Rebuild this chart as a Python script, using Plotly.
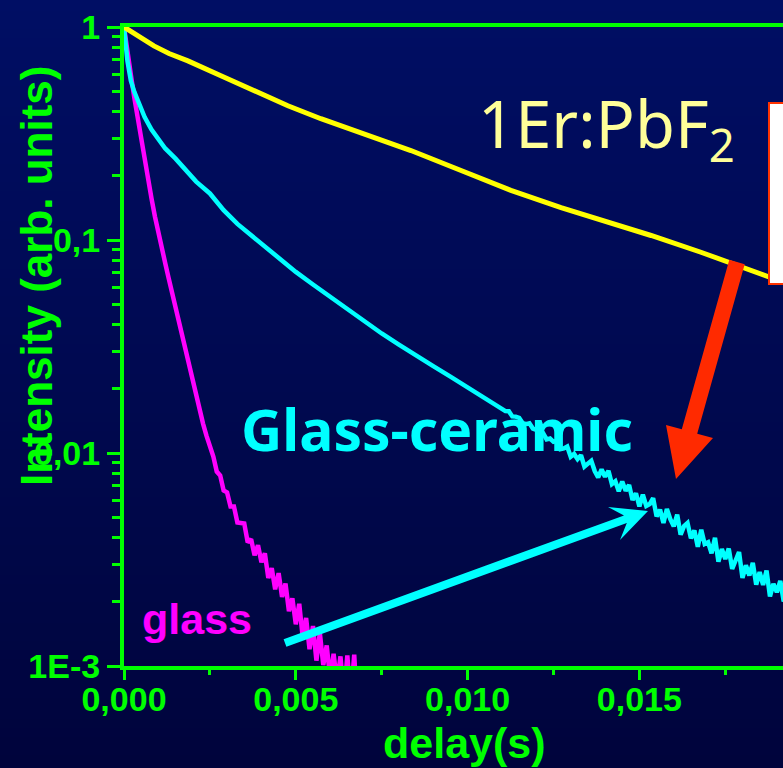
import base64
import struct
import zlib

import plotly.graph_objects as go

# ---------------------------------------------------------------- data
# Luminescence decay of Er3+ (intensity normalised to 1 at t = 0)

# 1Er:PbF2 crystal
crystal_t = [0, 0.00044, 0.00087, 0.00131, 0.00186, 0.00282, 0.00378, 0.00477, 0.00573,
             0.00669, 0.00835, 0.00981, 0.01126, 0.01272, 0.01417, 0.01534, 0.01679,
             0.01825, 0.01927]
crystal_i = [1.0, 0.898, 0.815, 0.751, 0.693, 0.590, 0.502, 0.427, 0.371,
             0.326, 0.263, 0.212, 0.171, 0.142, 0.121, 0.105, 0.0876,
             0.0722, 0.0627]

# glass-ceramic
ceramic_t = [0, 0.00005, 0.0001, 0.00015, 0.0002, 0.0003, 0.0004, 0.0005, 0.0006, 0.0008,
             0.0010, 0.0012, 0.0015, 0.0018, 0.0021, 0.0025, 0.0029, 0.0033, 0.0037,
             0.0040, 0.0045, 0.0050, 0.0055, 0.0060, 0.0065, 0.0070, 0.0075, 0.0080,
             0.0085, 0.0090, 0.0095, 0.0100, 0.0105,
             0.0110, 0.0111, 0.0112, 0.0113, 0.0114, 0.0115, 0.0116, 0.0117, 0.0118, 0.0119,
             0.0120, 0.0121, 0.0122, 0.0123, 0.0124, 0.0125, 0.0126, 0.0127, 0.0128, 0.0129,
             0.0130, 0.0131, 0.0132, 0.0133, 0.0134, 0.0135, 0.0136, 0.0137, 0.0138, 0.0139,
             0.0140, 0.0141, 0.0142, 0.0143, 0.0144, 0.0145, 0.0146, 0.0147, 0.0148, 0.0149,
             0.0150, 0.0151, 0.0152, 0.0153, 0.0154, 0.0155, 0.0156, 0.0157, 0.0158, 0.0159,
             0.0160, 0.0161, 0.0162, 0.0163, 0.0164, 0.0165, 0.0166, 0.0167, 0.0168, 0.0169,
             0.0170, 0.0171, 0.0172, 0.0173, 0.0174, 0.0175, 0.0176, 0.0177, 0.0178, 0.0179,
             0.0180, 0.0181, 0.0182, 0.0183, 0.0184, 0.0185, 0.0186, 0.0187, 0.0188, 0.0189,
             0.0190, 0.0191, 0.0192, 0.0193]
ceramic_i = [1.0, 0.815, 0.693, 0.622, 0.559, 0.496, 0.448, 0.404, 0.3776, 0.330,
             0.2985, 0.269, 0.241, 0.212, 0.188, 0.1654, 0.138, 0.119, 0.1051,
             0.0957, 0.0818, 0.0708, 0.0618, 0.0540, 0.0472, 0.0415, 0.0364, 0.0323,
             0.0286, 0.0256, 0.02285, 0.0204, 0.01827,
             0.01629, 0.01574, 0.01571, 0.01485, 0.01482, 0.01463, 0.01383, 0.01365, 0.01378, 0.01302,
             0.01285, 0.01229, 0.01239, 0.01159, 0.01169, 0.01129, 0.01140, 0.01043, 0.01051, 0.01073,
             0.00960, 0.00990, 0.00936, 0.00976, 0.00864, 0.00891, 0.00919, 0.00823, 0.00769, 0.00837,
             0.00774, 0.00824, 0.00715, 0.00737, 0.00661, 0.00734, 0.00665, 0.00708, 0.00601, 0.00647,
             0.00561, 0.00637, 0.00564, 0.00576, 0.00614, 0.00504, 0.00542, 0.00470, 0.00546, 0.00489,
             0.00453, 0.00514, 0.00414, 0.00454, 0.00469, 0.00398, 0.00433, 0.00363, 0.00436, 0.00374,
             0.00381, 0.00338, 0.00400, 0.00309, 0.00354, 0.00318, 0.00356, 0.00286, 0.00309, 0.00343,
             0.00259, 0.00297, 0.00266, 0.00305, 0.00241, 0.00276, 0.00240, 0.00281, 0.00212, 0.00243,
             0.00222, 0.00251, 0.00201, 0.00224]

# glass
glass_t = [0, 0.00005, 0.0001, 0.0002, 0.0003, 0.0004, 0.0005, 0.0006, 0.0007, 0.0008, 0.0009,
           0.0010, 0.0011, 0.0012, 0.0013, 0.0014, 0.0015, 0.0016, 0.0017, 0.0018, 0.0019,
           0.0020, 0.0021, 0.0022, 0.0023, 0.0024, 0.0025, 0.0026, 0.0027, 0.0028, 0.0029,
           0.0030, 0.0031, 0.0032, 0.0033, 0.0034, 0.0035, 0.0036, 0.0037, 0.0038, 0.0039,
           0.0040, 0.0041, 0.0042, 0.0043, 0.0044, 0.0045, 0.0046, 0.0047, 0.0048, 0.0049,
           0.0050, 0.0051, 0.0052, 0.0053, 0.0054, 0.0055, 0.0056, 0.0057, 0.0058, 0.0059,
           0.0060, 0.0061, 0.0062, 0.0063, 0.0064, 0.0065, 0.0066, 0.0067, 0.0068]
glass_i = [1.0, 0.860, 0.755, 0.596, 0.4655, 0.371, 0.2928, 0.236, 0.1903, 0.1567, 0.129,
           0.1075, 0.0905, 0.0778, 0.0662, 0.0563, 0.0484, 0.0412, 0.0351, 0.0301, 0.0254,
           0.0216, 0.0180, 0.0158, 0.01374, 0.01206, 0.01083, 0.00962, 0.00818, 0.00784, 0.00667,
           0.00653, 0.00561, 0.00561, 0.00472, 0.00472, 0.00467, 0.00381, 0.00394, 0.00331, 0.00369,
           0.00307, 0.00338, 0.00259, 0.00288, 0.00229, 0.00273, 0.00211, 0.00244, 0.00181, 0.00208,
           0.00157, 0.00196, 0.00137, 0.00168, 0.00120, 0.00154, 0.00106, 0.00143, 0.00101, 0.00125,
           0.00087, 0.00114, 0.00084, 0.00111, 0.00072, 0.00112, 0.00069, 0.00113, 0.00060]

# axis ticks
x_tick_vals = [0.0, 0.005, 0.010, 0.015]
x_tick_text = ["0,000", "0,005", "0,010", "0,015"]
x_minor_vals = [0.0025, 0.0075, 0.0125, 0.0175]
y_tick_vals = [1, 0.1, 0.01, 0.001]
y_tick_text = ["1", "0,1", "0,01", "1E-3"]
y_minor_vals = [m * d for d in (0.001, 0.01, 0.1) for m in range(2, 10)]

# ---------------------------------------------------------------- style
W, H = 783, 768
ML, MR, MT, MB = 124, 0, 27, 102
PW, PH = W - ML - MR, H - MT - MB
GREEN = "#00ff00"
YELLOW = "#ffff00"
CYAN = "#00ffff"
MAGENTA = "#ff00ff"
RED = "#ff2a00"


def fx(px):
    """figure pixel column -> paper x"""
    return (px - ML) / PW


def fy(py):
    """figure pixel row -> paper y"""
    return (H - MB - py) / PH


def gradient_png(top, bottom, height=256):
    """1-pixel-wide vertical gradient as a PNG data URI"""
    rows = b""
    for r in range(height):
        f = r / (height - 1)
        rgb = bytes(round(a + (b - a) * f) for a, b in zip(top, bottom))
        rows += b"\x00" + rgb

    def chunk(tag, data):
        c = struct.pack(">I", len(data)) + tag + data
        return c + struct.pack(">I", zlib.crc32(tag + data) & 0xFFFFFFFF)

    png = b"\x89PNG\r\n\x1a\n"
    png += chunk(b"IHDR", struct.pack(">IIBBBBB", 1, height, 8, 2, 0, 0, 0))
    png += chunk(b"IDAT", zlib.compress(rows))
    png += chunk(b"IEND", b"")
    return "data:image/png;base64," + base64.b64encode(png).decode()


def path(points):
    return "M " + " L ".join(f"{fx(x):.5f},{fy(y):.5f}" for x, y in points) + " Z"


# ---------------------------------------------------------------- figure
fig = go.Figure()
fig.add_trace(go.Scatter(x=glass_t, y=glass_i, mode="lines",
                         line=dict(color=MAGENTA, width=4.5)))
fig.add_trace(go.Scatter(x=ceramic_t, y=ceramic_i, mode="lines",
                         line=dict(color=CYAN, width=4.5)))
fig.add_trace(go.Scatter(x=crystal_t, y=crystal_i, mode="lines",
                         line=dict(color=YELLOW, width=5)))

tickfont = dict(family="Liberation Sans", size=34, color=GREEN, weight="bold")

fig.update_layout(
    width=W, height=H,
    margin=dict(l=ML, r=MR, t=MT, b=MB, pad=0),
    paper_bgcolor="#000a55",
    plot_bgcolor="rgba(0,0,0,0)",
    showlegend=False,
    xaxis=dict(
        range=[0, PW / 34360], showline=True, linecolor=GREEN, linewidth=4,
        mirror=True, showgrid=False, zeroline=False, automargin=False,
        ticks="outside", ticklen=10, tickwidth=3, tickcolor=GREEN,
        tickvals=x_tick_vals, ticktext=x_tick_text, tickfont=tickfont,
        ticklabelstandoff=-10,
        minor=dict(tickvals=x_minor_vals, ticks="outside", ticklen=5,
                   tickwidth=3, tickcolor=GREEN, showgrid=False),
    ),
    yaxis=dict(
        type="log", range=[-3, 0], showline=True, linecolor=GREEN, linewidth=4,
        mirror=False, showgrid=False, zeroline=False, automargin=False,
        ticks="outside", ticklen=13, tickwidth=3, tickcolor=GREEN,
        tickvals=y_tick_vals, ticktext=y_tick_text, tickfont=tickfont,
        minor=dict(tickvals=y_minor_vals, ticks="outside", ticklen=8,
                   tickwidth=3, tickcolor=GREEN, showgrid=False),
    ),
    images=[dict(
        source=gradient_png((0, 14, 100), (0, 4, 60)),
        xref="paper", yref="paper", x=fx(0), y=fy(0),
        sizex=W / PW, sizey=H / PH, sizing="stretch",
        xanchor="left", yanchor="top", layer="below",
    )],
)

# annotation box (partly outside the frame) and arrows
fig.add_shape(type="rect", xref="paper", yref="paper",
              x0=fx(769), x1=fx(800), y0=fy(284), y1=fy(103),
              fillcolor="white", line=dict(color="#ff3300", width=2), layer="above")
fig.add_shape(type="path", xref="paper", yref="paper", layer="above",
              path=path([(729.3, 259.8), (744.7, 264.2), (697.2, 433.7), (713, 438),
                         (676, 479), (666, 425), (681.8, 429.3)]),
              fillcolor=RED, line=dict(width=0))
fig.add_shape(type="path", xref="paper", yref="paper", layer="above",
              path=path([(283.6, 639.2), (624.0, 515.4), (608, 507), (648, 511),
                         (620, 540), (626.8, 523.0), (286.4, 646.8)]),
              fillcolor=CYAN, line=dict(width=0))

# labels
fig.add_annotation(text="1Er:PbF<sub>2</sub>", xref="paper", yref="paper",
                   x=fx(476), y=fy(127), xanchor="left", yanchor="middle",
                   showarrow=False,
                   font=dict(family="Noto Sans", size=65, color="#ffff99"))
fig.add_annotation(text="Glass-ceramic", xref="paper", yref="paper",
                   x=fx(437), y=fy(429), xanchor="center", yanchor="middle",
                   showarrow=False,
                   font=dict(family="Noto Sans", size=57, color=CYAN, weight="bold"))
fig.add_annotation(text="glass", xref="paper", yref="paper",
                   x=fx(197), y=fy(619), xanchor="center", yanchor="middle",
                   showarrow=False,
                   font=dict(family="Liberation Sans", size=43, color=MAGENTA, weight="bold"))
fig.add_annotation(text="delay(s)", xref="paper", yref="paper",
                   x=fx(464), y=fy(743), xanchor="center", yanchor="middle",
                   showarrow=False,
                   font=dict(family="Liberation Sans", size=43, color=GREEN, weight="bold"))
fig.add_annotation(text="Intensity (arb. units)", xref="paper", yref="paper",
                   x=fx(36), y=fy(276), xanchor="center", yanchor="middle",
                   textangle=-90, showarrow=False,
                   font=dict(family="Liberation Sans", size=44, color=GREEN, weight="bold"))

fig.write_html("out.html")
